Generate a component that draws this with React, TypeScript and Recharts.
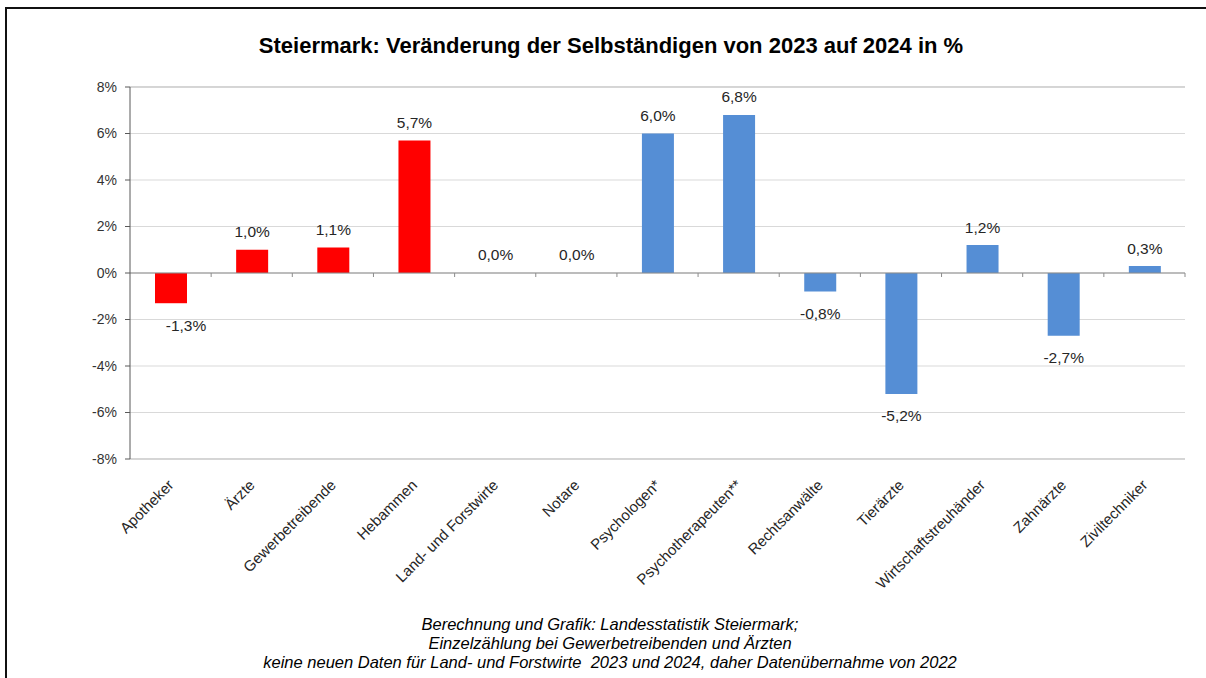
import React from "react";
import {
  BarChart,
  Bar,
  Cell,
  XAxis,
  YAxis,
  CartesianGrid,
  ReferenceLine,
  LabelList,
} from "recharts";

// Berufsgruppen (Kategorien)
const categories = [
  "Apotheker",
  "Ärzte",
  "Gewerbetreibende",
  "Hebammen",
  "Land- und Forstwirte",
  "Notare",
  "Psychologen*",
  "Psychotherapeuten**",
  "Rechtsanwälte",
  "Tierärzte",
  "Wirtschaftstreuhänder",
  "Zahnärzte",
  "Ziviltechniker",
];

// Veränderung 2023 -> 2024 in %
const changes = [-1.3, 1.0, 1.1, 5.7, 0.0, 0.0, 6.0, 6.8, -0.8, -5.2, 1.2, -2.7, 0.3];

// Gruppe: rot / blau
const groups = ["red", "red", "red", "red", "red", "red", "blue", "blue", "blue", "blue", "blue", "blue", "blue"];

const yTicks = [-8, -6, -4, -2, 0, 2, 4, 6, 8];

const title = "Steiermark: Veränderung der Selbständigen von 2023 auf 2024 in %";
const notes = [
  "Berechnung und Grafik: Landesstatistik Steiermark;",
  "Einzelzählung bei Gewerbetreibenden und Ärzten",
  "keine neuen Daten für Land- und Forstwirte  2023 und 2024, daher Datenübernahme von 2022",
];

const groupColors: Record<string, string> = {
  red: "#ff0000",
  blue: "#558ed5",
};

const data = categories.map((name, i) => ({ name, value: changes[i], group: groups[i] }));

const FONT = '"Liberation Sans", Arial, sans-serif';
const fmt = (v: number) => `${v.toFixed(1).replace(".", ",")}%`;

const XTick = (props: any) => {
  const { x, y, payload } = props;
  return (
    <g transform={`translate(${x + 4},${y + 19})`}>
      <text
        transform="rotate(-45)"
        textAnchor="end"
        fontSize={15}
        fontFamily={FONT}
        fill="#262626"
      >
        {payload.value}
      </text>
    </g>
  );
};

const ValueLabel = (props: any) => {
  const { x, y, width, height, value, index } = props;
  const top = Math.min(y, y + height);
  const bottom = Math.max(y, y + height);
  // das Etikett von Apotheker ist im Original etwas nach rechts versetzt
  const cx = x + width / 2 + (index === 0 ? 15 : 0);
  const ly = value < 0 ? bottom + 22 : top - 18;
  return (
    <text
      x={cx}
      y={ly}
      textAnchor="middle"
      dominantBaseline="central"
      fontSize={15.5}
      fontFamily={FONT}
      fill="#262626"
    >
      {fmt(value)}
    </text>
  );
};

// Nulllinie mit kleinen Teilstrichen an den Kategoriegrenzen
const ZeroLine = (props: any) => {
  const { x1, y1, x2 } = props;
  const step = (x2 - x1) / categories.length;
  return (
    <g>
      <line x1={x1} y1={y1} x2={x2} y2={y1} stroke="#8c8c8c" strokeWidth={1} />
      {categories.map((_, i) => (
        <line
          key={i}
          x1={x1 + step * (i + 1)}
          x2={x1 + step * (i + 1)}
          y1={y1}
          y2={y1 + 4}
          stroke="#8c8c8c"
        />
      ))}
    </g>
  );
};

export default function App() {
  return (
    <div style={{ position: "absolute", left: 0, top: 0, width: 1206, height: 678, background: "#fff", fontFamily: FONT }}>
      {/* Rahmen */}
      <div
        style={{
          position: "absolute",
          left: 5,
          top: 7,
          width: 1201,
          height: 671,
          borderTop: "2px solid #111",
          borderLeft: "2px solid #111",
          boxSizing: "border-box",
        }}
      />
      <div
        style={{
          position: "absolute",
          left: 0,
          width: 1222,
          top: 33,
          textAlign: "center",
          fontSize: 22,
          fontWeight: "bold",
          color: "#000",
        }}
      >
        {title}
      </div>

      <div style={{ position: "absolute", left: 0, top: 0 }}>
        <BarChart
          width={1206}
          height={678}
          data={data}
          margin={{ top: 87, right: 21, bottom: 99, left: 70 }}
          barSize={32}
        >
          <CartesianGrid vertical={false} stroke="#d9d9d9" />
          <XAxis
            dataKey="name"
            interval={0}
            height={120}
            tick={<XTick />}
            tickLine={false}
            axisLine={{ stroke: "#bfbfbf" }}
          />
          <YAxis
            domain={[-8, 8]}
            ticks={yTicks}
            tickFormatter={(v: number) => `${v}%`}
            width={60}
            tickSize={5}
            tickMargin={8}
            tick={{ fontSize: 14, fontFamily: FONT, fill: "#333" }}
            tickLine={{ stroke: "#595959" }}
            axisLine={{ stroke: "#595959" }}
            interval={0}
          />
          <YAxis
            yAxisId="r"
            orientation="right"
            domain={[-8, 8]}
            width={0}
            tick={false}
            tickLine={false}
            axisLine={{ stroke: "#bfbfbf" }}
          />
          <ReferenceLine y={8} stroke="#bfbfbf" />
          <Bar
            dataKey="value"
            isAnimationActive={false}
            minPointSize={(v: number) => (v === 0 ? 0.01 : 0)}
          >
            {data.map((d, i) => (
              <Cell key={i} fill={groupColors[d.group]} />
            ))}
            <LabelList dataKey="value" content={<ValueLabel />} />
          </Bar>
          <ReferenceLine y={0} shape={<ZeroLine />} />
        </BarChart>
      </div>

      <div
        style={{
          position: "absolute",
          left: 0,
          width: 1220,
          top: 615,
          textAlign: "center",
          fontSize: 16.5,
          lineHeight: "19px",
          fontStyle: "italic",
          color: "#000",
        }}
      >
        {notes.map((n, i) => (
          <div key={i} style={{ whiteSpace: "pre" }}>{n}</div>
        ))}
      </div>
    </div>
  );
}
